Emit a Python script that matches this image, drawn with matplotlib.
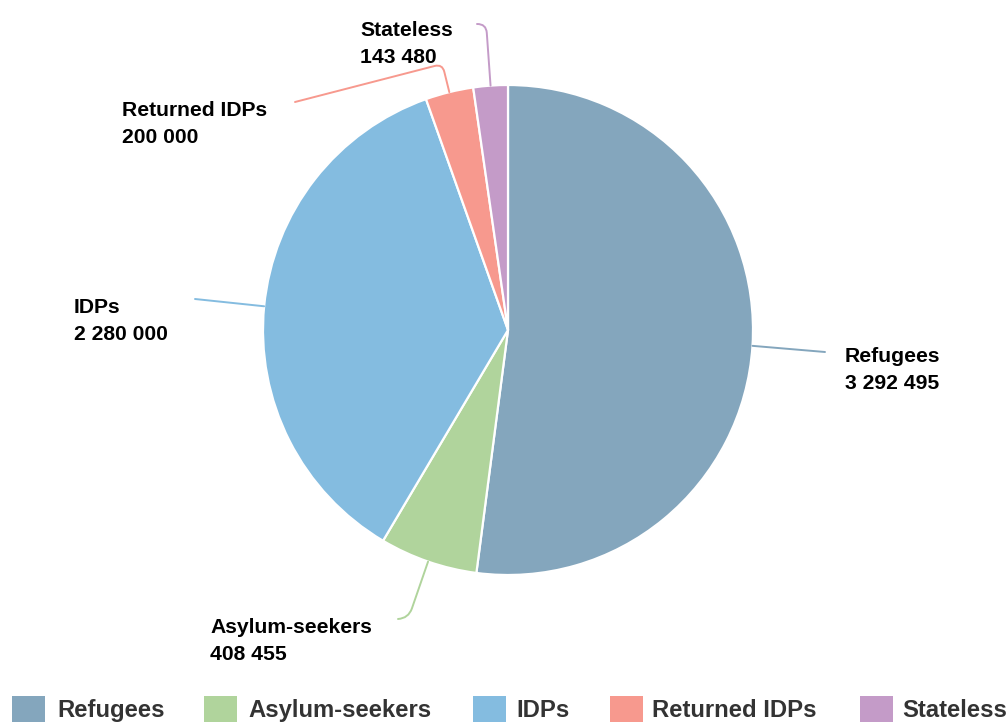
import numpy as np
import matplotlib
matplotlib.use("Agg")
import matplotlib.pyplot as plt
from matplotlib.path import Path
from matplotlib.patches import PathPatch, Rectangle

plt.rcParams['font.family'] = ['Liberation Sans', 'DejaVu Sans']

# ---- data ----
categories = ["Refugees", "Asylum-seekers", "IDPs", "Returned IDPs", "Stateless"]
values = [3292495, 408455, 2280000, 200000, 143480]
colors = ["#84A6BD", "#B0D49C", "#84BCE0", "#F7998E", "#C49BC8"]

# ---- layout (pixel coordinates, y from top) ----
W, H = 1006, 722
center_px = (508, 330)
radius = 245
# label text anchor (x, baseline of first line)
label_pos = [(845, 362), (210, 633), (74, 313), (122, 116), (360, 36)]
# connector end (x, y) and elbow distance beyond radius (None = straight)
conn_end = [(825, 352), (398, 619), (195, 299), (295, 102), (477, 24)]
elbow = [None, 60, None, 29, 62]
corner = [0, 14, 0, 8, 10]
legend_sq_x = [12, 204, 473, 610, 860]
legend_tx_x = [57, 248, 516, 652, 902]


def Y(py):
    return H - py


fig = plt.figure(figsize=(W / 100, H / 100), dpi=100)
ax = fig.add_axes([0, 0, 1, 1])

cx, cy = center_px[0], Y(center_px[1])
wedges, _ = ax.pie(values, colors=colors, startangle=90, counterclock=False,
                   center=(cx, cy), radius=radius,
                   wedgeprops=dict(edgecolor="white", linewidth=1.6))
ax.set_xlim(0, W)
ax.set_ylim(0, H)
ax.set_aspect('equal')
ax.axis('off')

total = sum(values)
cum = 0.0
for i, (v, w) in enumerate(zip(values, wedges)):
    mid = 90 - 360 * (cum + v / 2) / total
    cum += v
    th = np.deg2rad(mid)
    u1 = np.array([np.cos(th), np.sin(th)])
    A = np.array([cx, cy]) + radius * u1
    C = np.array([conn_end[i][0], Y(conn_end[i][1])], dtype=float)
    if elbow[i] is None:
        verts = [A, C]
        codes = [Path.MOVETO, Path.LINETO]
    else:
        B = np.array([cx, cy]) + (radius + elbow[i]) * u1
        d2 = C - B
        L2 = np.linalg.norm(d2)
        u2 = d2 / L2
        rc = min(corner[i], L2, elbow[i])
        P1 = B - u1 * rc
        P2 = B + u2 * rc
        verts = [A, P1, B, P2, C]
        codes = [Path.MOVETO, Path.LINETO, Path.CURVE3, Path.CURVE3, Path.LINETO]
    ax.add_patch(PathPatch(Path(verts, codes), fill=False, edgecolor=colors[i],
                           linewidth=1.4, capstyle='round'))
    lx, ly = label_pos[i]
    ax.text(lx, Y(ly), categories[i], fontsize=15.2, fontweight='bold',
            color='black', ha='left', va='baseline')
    ax.text(lx, Y(ly + 27), f"{v:,}".replace(",", " "), fontsize=15.2,
            fontweight='bold', color='black', ha='left', va='baseline')

# ---- legend ----
for i, name in enumerate(categories):
    ax.add_patch(Rectangle((legend_sq_x[i], Y(730)), 33, 34, facecolor=colors[i],
                           edgecolor='none', clip_on=True))
    ax.text(legend_tx_x[i], Y(717), name, fontsize=17.2, fontweight='bold',
            color='#333333', ha='left', va='baseline')

fig.savefig("out.png", dpi=100)
